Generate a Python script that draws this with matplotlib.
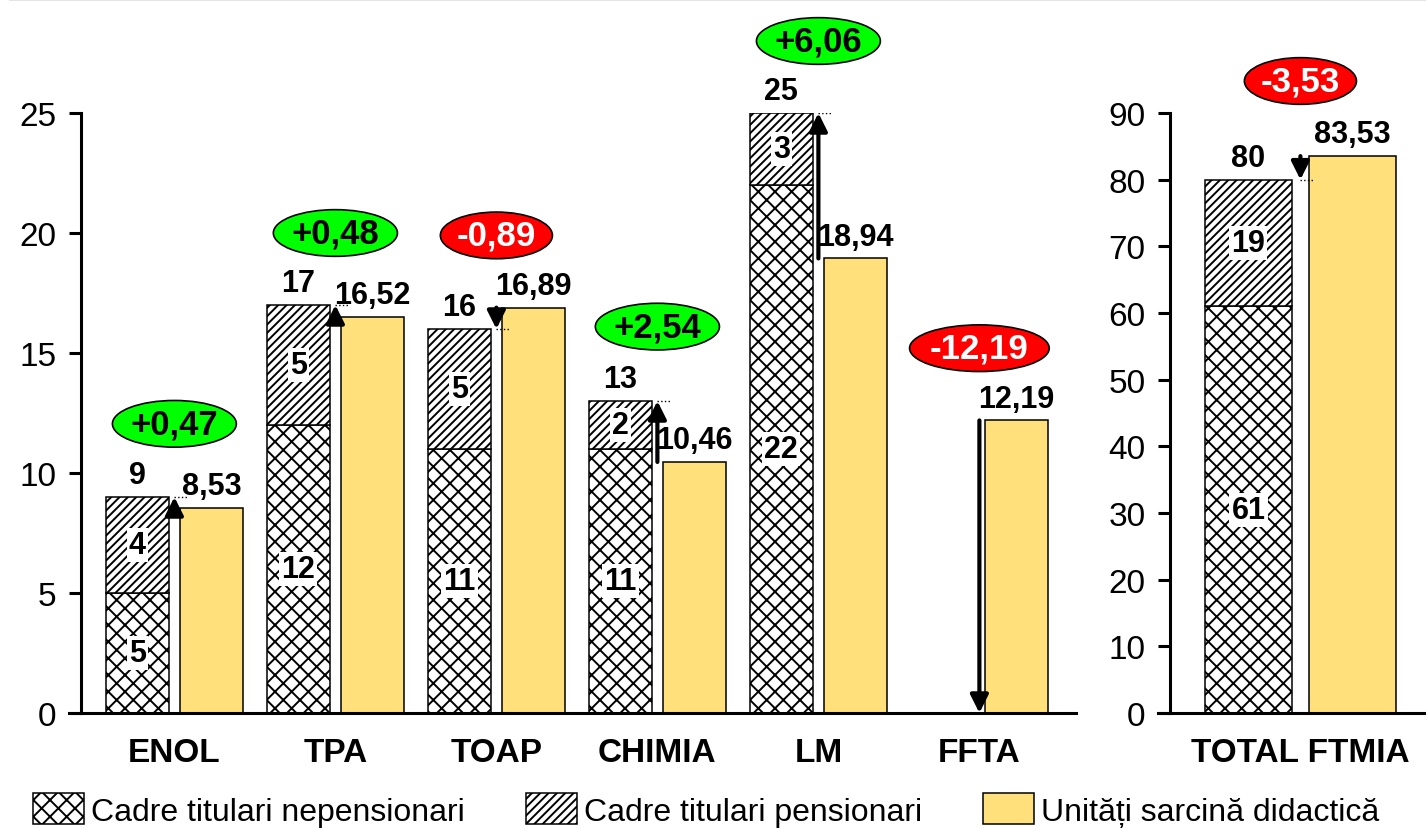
import matplotlib
matplotlib.use('Agg')
import matplotlib.pyplot as plt
import numpy as np

plt.rcParams['font.family'] = ['Liberation Sans', 'DejaVu Sans']
plt.rcParams['hatch.linewidth'] = 1.4

# data per departament
categories = ['ENOL', 'TPA', 'TOAP', 'CHIMIA', 'LM', 'FFTA']
nepensionari = [5, 12, 11, 11, 22, 0]
pensionari = [4, 5, 5, 2, 3, 0]
sarcina = [8.53, 16.52, 16.89, 10.46, 18.94, 12.19]
ellipse_y = [12.05, 20.0, 19.9, 16.1, 28.0, 15.2]

# total facultate
total_cat = ['TOTAL FTMIA']
total_nep = [61]
total_pens = [19]
total_sarcina = [83.53]
total_ellipse_y = [94.8]

YELLOW = '#FFE07A'
W = 1426.0
H = 829.0


def fmt(v):
    if float(v).is_integer():
        return str(int(v))
    return ('%.2f' % v).replace('.', ',')


def draw_group(ax, cats, nep, pens, sarc, ell_y, off, width, fs_lab):
    x = np.arange(len(cats))
    nep = np.array(nep, dtype=float)
    pens = np.array(pens, dtype=float)
    sarc = np.array(sarc, dtype=float)
    tot = nep + pens
    b1 = ax.bar(x - off, nep, width, color='white', edgecolor='black', hatch='xx', lw=1.1,
                label='Cadre titulari nepensionari')
    b2 = ax.bar(x - off, pens, width, bottom=nep, color='white', edgecolor='black', hatch='////',
                lw=1.1, label='Cadre titulari pensionari')
    b3 = ax.bar(x + off, sarc, width, color=YELLOW, edgecolor='black', lw=1.1,
                label='Unități sarcină didactică')
    for i in range(len(x)):
        # labels inside hatched segments
        if nep[i] > 0:
            ax.text(x[i] - off, nep[i] / 2, fmt(nep[i]), ha='center', va='center', fontsize=22,
                    fontweight='bold', bbox=dict(facecolor='white', edgecolor='none', pad=1.5))
        if pens[i] > 0:
            ax.text(x[i] - off, nep[i] + pens[i] / 2, fmt(pens[i]), ha='center', va='center',
                    fontsize=22, fontweight='bold',
                    bbox=dict(facecolor='white', edgecolor='none', pad=1.5))
        # totals above the bars
        if tot[i] > 0:
            ax.annotate(fmt(tot[i]), (x[i] - off, tot[i]), xytext=(0, 10), textcoords='offset points',
                        ha='center', va='baseline', fontsize=22, fontweight='bold')
        ax.annotate(fmt(sarc[i]), (x[i] + off, sarc[i]), xytext=(0, 10), textcoords='offset points',
                    ha='center', va='baseline', fontsize=22, fontweight='bold')
        # arrow from sarcina to cadre
        ax.annotate('', xy=(x[i], tot[i]), xytext=(x[i], sarc[i]),
                    arrowprops=dict(arrowstyle='-|>', lw=3, color='black', mutation_scale=27,
                                    shrinkA=0, shrinkB=0))
        ax.plot([x[i], x[i] + 0.08], [tot[i], tot[i]], ls=':', color='black', lw=1)
        d = tot[i] - sarc[i]
        txt = ('+' if d > 0 else '-') + fmt(abs(d))
        if d > 0:
            fc, tc = '#00FF00', 'black'
        else:
            fc, tc = '#FF0000', 'white'
        ax.text(x[i], ell_y[i], txt, ha='center', va='center', fontsize=25, fontweight='bold',
                color=tc, clip_on=False,
                bbox=dict(boxstyle='ellipse,pad=0.0', facecolor=fc, edgecolor='black', lw=1.2))
    ax.set_xticks(x)
    ax.set_xticklabels(cats, fontsize=fs_lab, fontweight='bold')
    return b1, b2, b3


fig = plt.figure(figsize=(W / 100, H / 100), dpi=100)
ax1 = fig.add_axes([81 / W, 115 / H, (1076 - 81) / W, 600 / H])
ax2 = fig.add_axes([1170 / W, 115 / H, (1426 - 1170) / W, 600 / H])

handles = draw_group(ax1, categories, nepensionari, pensionari, sarcina, ellipse_y, 0.23, 0.39, 24)
draw_group(ax2, total_cat, total_nep, total_pens, total_sarcina, total_ellipse_y, 0.323, 0.54, 24)

ax1.set_xlim(-0.58, 5.6)
ax1.set_ylim(0, 25)
ax1.set_yticks(range(0, 26, 5))
ax2.set_xlim(-0.81, 0.78)
ax2.set_ylim(0, 90)
ax2.set_yticks(range(0, 91, 10))

for ax in (ax1, ax2):
    for s in ('top', 'right'):
        ax.spines[s].set_visible(False)
    for s in ('left', 'bottom'):
        ax.spines[s].set_linewidth(2.2)
    ax.tick_params(axis='y', direction='out', length=8.6, width=2.2, pad=9, labelsize=24)
    ax.tick_params(axis='x', length=0, pad=17)

# bottom spine extends under the tick mark at 0
ax1.plot([-0.58 - 12 / 161.0, -0.58], [0, 0], color='black', lw=2.2, clip_on=False)
ax2.plot([-0.81 - 12 / 161.0, -0.81], [0, 0], color='black', lw=2.2, clip_on=False)

# thin grey line at the very top
fig.add_artist(plt.Line2D([10 / W, 1], [1 - 1 / H, 1 - 1 / H], color='#e4e4e4', lw=1.5))

fig.legend(handles=handles, loc='center left', bbox_to_anchor=(33 / W, 1 - 811 / H), ncol=3,
           frameon=False, fontsize=23, borderpad=0, borderaxespad=0, handlelength=1.6,
           handleheight=1.1, handletextpad=0.22, columnspacing=1.9)

plt.savefig('out.png', dpi=100)
